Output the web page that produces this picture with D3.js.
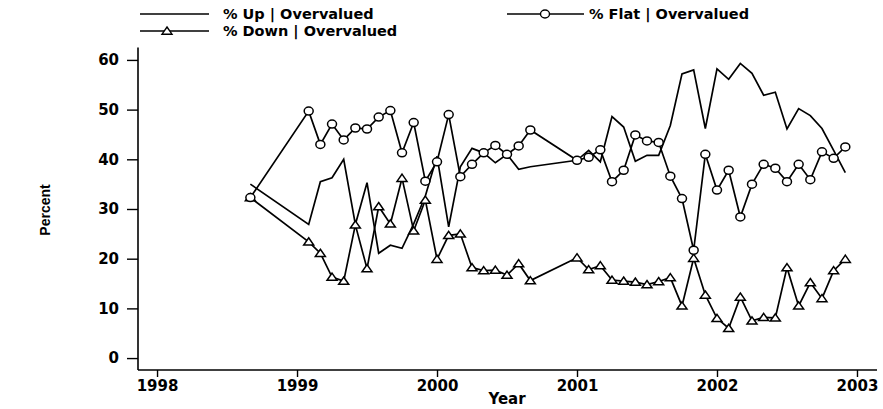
<!DOCTYPE html>
<html>
<head>
<meta charset="utf-8">
<script src="https://cdn.jsdelivr.net/npm/d3@7"></script>
<style>
  body { margin: 0; background: #fff; }
  svg { display: block; }
  text { fill: #000; }
</style>
</head>
<body>
<div id="chart"></div>
<script>
// monthly survey dates
var months = ["1998-09",
  "1999-02", "1999-03", "1999-04", "1999-05", "1999-06", "1999-07", "1999-08", "1999-09", "1999-10", "1999-11", "1999-12",
  "2000-01", "2000-02", "2000-03", "2000-04", "2000-05", "2000-06", "2000-07", "2000-08", "2000-09",
  "2001-01", "2001-02", "2001-03", "2001-04", "2001-05", "2001-06", "2001-07", "2001-08", "2001-09", "2001-10", "2001-11", "2001-12",
  "2002-01", "2002-02", "2002-03", "2002-04", "2002-05", "2002-06", "2002-07", "2002-08", "2002-09", "2002-10", "2002-11", "2002-12"];

var upValues = [35.0,
  26.9, 35.5, 36.3, 40.0, 26.9, 35.3, 21.1, 22.7, 22.1, 27.0, 32.6,
  40.6, 26.4, 38.5, 42.2, 41.3, 39.3, 41.0, 38.0, 38.5,
  39.8, 41.8, 39.5, 48.6, 46.5, 39.6, 40.8, 40.8, 46.8, 57.2, 58.0, 46.2,
  58.2, 56.1, 59.3, 57.3, 52.9, 53.5, 46.1, 50.2, 48.8, 46.2, 41.8, 37.3];

var flatValues = [32.3,
  49.7, 43.0, 47.1, 43.9, 46.3, 46.1, 48.5, 49.8, 41.3, 47.4, 35.6,
  39.5, 49.0, 36.5, 39.0, 41.3, 42.8, 41.0, 42.7, 45.9,
  39.8, 40.4, 41.9, 35.5, 37.8, 44.9, 43.7, 43.4, 36.6, 32.1, 21.7, 41.0,
  33.8, 37.8, 28.4, 35.0, 39.0, 38.2, 35.5, 39.0, 35.9, 41.5, 40.2, 42.5];

var downValues = [32.3,
  23.4, 21.1, 16.3, 15.5, 26.8, 18.0, 30.5, 27.0, 36.2, 25.6, 31.8,
  19.9, 24.7, 25.0, 18.2, 17.6, 17.7, 16.7, 19.0, 15.6,
  20.2, 17.8, 18.6, 15.7, 15.5, 15.3, 14.8, 15.4, 16.2, 10.5, 20.1, 12.7,
  8.0, 6.0, 12.3, 7.5, 8.2, 8.1, 18.2, 10.5, 15.2, 12.0, 17.6, 19.9];

var yearTicks = [1998, 1999, 2000, 2001, 2002, 2003];
var percentTicks = [0, 10, 20, 30, 40, 50, 60];

var width = 883, height = 409;
var bold = "'DejaVu Sans', sans-serif";

var svg = d3.select("#chart").append("svg")
  .attr("width", width)
  .attr("height", height);

// month string -> decimal year
function toYear(m) {
  var p = m.split("-");
  return +p[0] + (+p[1] - 1) / 12;
}

var x = d3.scaleLinear().domain([1997.864, 2003.143]).range([138, 877]);
var y = d3.scaleLinear().domain([-2.4, 62.5]).range([370, 47.5]);

// axes
var xAxis = svg.append("g")
  .attr("transform", "translate(0,370)")
  .call(d3.axisBottom(x).tickValues(yearTicks).tickFormat(d3.format("d")).tickSize(7).tickPadding(3));
var yAxis = svg.append("g")
  .attr("transform", "translate(138,0)")
  .call(d3.axisLeft(y).tickValues(percentTicks).tickSize(11).tickPadding(8));

[xAxis, yAxis].forEach(function(g) {
  g.select(".domain").attr("stroke", "#000").attr("stroke-width", 1.6);
  g.selectAll(".tick line").attr("stroke", "#000").attr("stroke-width", 1.4);
  g.selectAll(".tick text")
    .attr("font-family", bold)
    .attr("font-weight", "bold")
    .attr("font-size", 15)
    .attr("fill", "#000");
});
xAxis.select(".domain").attr("d", "M138,0H877");
yAxis.select(".domain").attr("d", "M0,47.5V370");

// axis titles
svg.append("text")
  .attr("x", 507).attr("y", 404)
  .attr("text-anchor", "middle")
  .attr("font-family", bold).attr("font-weight", "bold").attr("font-size", 15)
  .text("Year");
svg.append("text")
  .attr("transform", "translate(50,210) rotate(-90)")
  .attr("text-anchor", "middle")
  .attr("font-family", "'Liberation Sans', Arial, sans-serif").attr("font-weight", "bold").attr("font-size", 14)
  .text("Percent");

function series(values) {
  return months.map(function(m, i) { return { t: toYear(m), v: values[i] }; });
}

var line = d3.line()
  .x(function(d) { return x(d.t); })
  .y(function(d) { return y(d.v); });

var triangle = "M0,-4L5,3.2L-5,3.2Z";

var plot = svg.append("g");

[upValues, downValues, flatValues].forEach(function(vals) {
  plot.append("path")
    .datum(series(vals))
    .attr("d", line)
    .attr("fill", "none").attr("stroke", "#000").attr("stroke-width", 1.7);
});

plot.selectAll(".tri")
  .data(series(downValues))
  .enter().append("path")
  .attr("class", "tri")
  .attr("transform", function(d) { return "translate(" + x(d.t) + "," + y(d.v) + ")"; })
  .attr("d", triangle)
  .attr("fill", "#fff").attr("stroke", "#000").attr("stroke-width", 1.5);

plot.selectAll(".circ")
  .data(series(flatValues))
  .enter().append("ellipse")
  .attr("class", "circ")
  .attr("cx", function(d) { return x(d.t); })
  .attr("cy", function(d) { return y(d.v); })
  .attr("rx", 4.5).attr("ry", 4)
  .attr("fill", "#fff").attr("stroke", "#000").attr("stroke-width", 1.5);

// legend
var legend = svg.append("g")
  .attr("font-family", bold).attr("font-weight", "bold").attr("font-size", 14.5);

legend.append("line").attr("x1", 140).attr("x2", 209).attr("y1", 14).attr("y2", 14)
  .attr("stroke", "#000").attr("stroke-width", 1.5);
legend.append("text").attr("x", 223).attr("y", 19).text("% Up | Overvalued");

legend.append("line").attr("x1", 140).attr("x2", 209).attr("y1", 31).attr("y2", 31)
  .attr("stroke", "#000").attr("stroke-width", 1.5);
legend.append("path").attr("transform", "translate(167,31)").attr("d", triangle)
  .attr("fill", "#fff").attr("stroke", "#000").attr("stroke-width", 1.4);
legend.append("text").attr("x", 223).attr("y", 36).text("% Down | Overvalued");

legend.append("line").attr("x1", 507).attr("x2", 584).attr("y1", 14).attr("y2", 14)
  .attr("stroke", "#000").attr("stroke-width", 1.5);
legend.append("ellipse").attr("cx", 545).attr("cy", 14).attr("rx", 4.5).attr("ry", 4)
  .attr("fill", "#fff").attr("stroke", "#000").attr("stroke-width", 1.4);
legend.append("text").attr("x", 589).attr("y", 19).text("% Flat | Overvalued");
</script>
</body>
</html>
